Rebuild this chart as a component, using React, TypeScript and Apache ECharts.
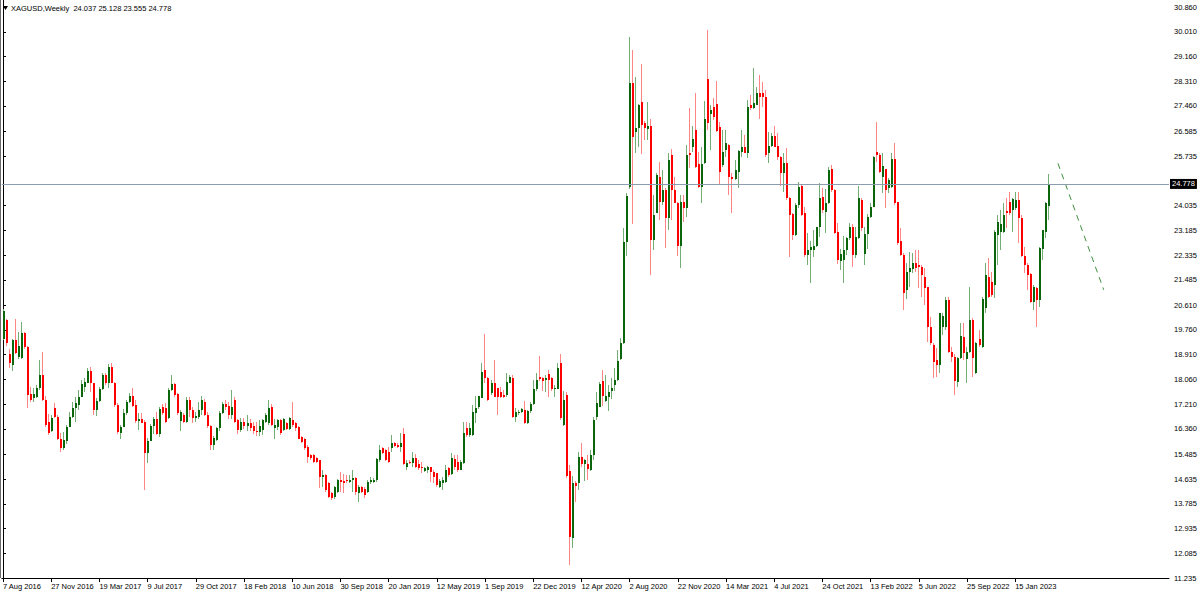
import React, { useEffect, useRef } from "react";
import * as echarts from "echarts";

// ---- Weekly XAGUSD bars: [open, high, low, close] ----
const BARS_2016: number[][] = [
  [19.45, 20.47, 19.4, 20.4], [20.1, 20.13, 19.21, 19.3], [18.93, 19.1, 18.44, 18.61], [18.56, 19.45, 18.36, 19.42],
  [19.42, 20.13, 18.93, 18.98], [18.82, 19.7, 18.75, 19.21], [18.79, 20.05, 18.75, 19.67], [19.64, 19.7, 19.1, 19.16],
  [19.16, 19.21, 17.07, 17.52], [17.56, 17.81, 17.3, 17.37], [17.41, 17.75, 17.3, 17.56], [17.47, 17.87, 17.41, 17.76],
  [17.76, 18.73, 17.7, 18.21], [18.21, 19.0, 17.33, 17.35], [17.35, 17.49, 16.44, 16.49], [16.61, 16.87, 16.15, 16.23],
  [16.3, 16.84, 16.25, 16.72], [17.07, 17.24, 16.72, 16.78], [16.78, 16.84, 15.98, 16.03], [16.03, 16.21, 15.58, 15.69],
  [15.69, 16.27, 15.63, 15.98],
];
const BARS_2017: number[][] = [
  [15.96, 16.49, 15.84, 16.44], [16.44, 16.95, 16.41, 16.76], [16.78, 17.3, 16.72, 17.07], [17.07, 17.47, 16.61, 17.24],
  [17.18, 17.7, 17.01, 17.47], [17.47, 18.04, 17.44, 17.9], [17.81, 18.1, 17.64, 17.98], [17.95, 18.44, 17.93, 18.36],
  [18.36, 18.5, 17.64, 17.93], [17.93, 17.95, 16.84, 17.01], [17.01, 17.41, 16.8, 17.33], [17.33, 17.79, 17.3, 17.74],
  [17.74, 18.29, 17.7, 18.21], [18.21, 18.29, 17.87, 17.95], [17.95, 18.58, 17.75, 18.48], [18.5, 18.61, 17.93, 17.95],
  [17.95, 17.98, 17.12, 17.18], [17.18, 17.24, 16.18, 16.26], [16.23, 16.49, 16.03, 16.41], [16.41, 17.03, 16.41, 16.92],
  [16.92, 17.35, 16.84, 17.28], [17.28, 17.58, 17.24, 17.49], [17.49, 17.75, 17.12, 17.15], [17.18, 17.35, 16.55, 16.63],
  [16.63, 16.9, 16.32, 16.69], [16.69, 16.9, 16.55, 16.57], [16.61, 16.67, 14.26, 15.54], [15.54, 16.04, 15.18, 15.96],
  [15.96, 16.52, 15.93, 16.47], [16.47, 16.78, 16.18, 16.69], [16.69, 16.95, 16.15, 16.2], [16.2, 17.12, 16.09, 17.03],
  [17.12, 17.2, 16.85, 16.9], [17.07, 17.24, 16.55, 16.61], [16.75, 17.75, 16.7, 17.7], [17.7, 18.21, 17.68, 17.92],
  [17.9, 17.95, 17.45, 17.52], [17.55, 17.6, 16.85, 16.9], [16.62, 17.0, 16.3, 16.95], [16.85, 16.9, 16.55, 16.6],
  [16.6, 17.45, 16.55, 17.37], [17.37, 17.47, 16.76, 17.0], [17.0, 17.12, 16.55, 16.72], [16.72, 16.95, 16.6, 16.8],
  [16.78, 17.3, 16.7, 17.0], [17.0, 17.5, 16.85, 17.37], [17.3, 17.4, 16.8, 16.85], [16.85, 16.95, 16.4, 16.45],
  [16.45, 16.5, 15.63, 15.8], [15.8, 16.1, 15.65, 16.05], [15.98, 16.42, 15.95, 16.38], [16.38, 16.98, 16.3, 16.92],
  [16.92, 17.3, 16.88, 17.2],
];
const BARS_2018: number[][] = [
  [17.2, 17.35, 17.0, 17.1], [17.15, 17.3, 16.7, 16.85], [16.85, 17.7, 16.7, 17.1], [17.35, 17.45, 16.55, 16.6],
  [16.65, 16.7, 16.2, 16.32], [16.32, 16.75, 16.25, 16.6], [16.6, 16.75, 16.35, 16.45], [16.45, 16.85, 16.3, 16.55],
  [16.55, 16.7, 16.3, 16.4], [16.45, 16.6, 16.2, 16.3], [16.3, 16.6, 16.1, 16.25], [16.25, 16.65, 16.1, 16.45],
  [16.32, 16.69, 16.15, 16.67], [16.61, 16.89, 16.55, 16.84], [16.55, 17.35, 16.49, 17.07], [17.12, 17.2, 16.45, 16.49],
  [16.38, 16.69, 16.0, 16.49], [16.44, 16.69, 16.32, 16.67], [16.67, 16.69, 16.15, 16.21], [16.32, 16.72, 16.3, 16.69],
  [16.55, 16.61, 16.32, 16.34], [16.34, 16.76, 16.32, 16.72], [16.67, 17.3, 16.44, 16.49], [16.55, 16.6, 16.3, 16.38],
  [16.44, 16.46, 16.0, 16.03], [16.09, 16.12, 15.88, 15.92], [16.03, 16.06, 15.65, 15.69], [15.75, 15.81, 15.18, 15.4],
  [15.46, 15.5, 15.3, 15.35], [15.46, 15.5, 15.18, 15.23], [15.35, 15.4, 15.18, 15.23], [15.29, 15.3, 14.32, 14.72],
  [14.72, 14.95, 14.37, 14.77], [14.77, 14.8, 14.2, 14.26], [14.49, 14.55, 13.97, 14.03], [14.14, 14.2, 13.92, 13.97],
  [14.03, 14.4, 13.95, 14.37], [14.2, 14.65, 14.15, 14.6], [14.6, 14.89, 14.2, 14.55], [14.58, 14.8, 14.15, 14.5],
  [14.6, 14.77, 14.49, 14.58], [14.55, 14.77, 14.49, 14.62], [14.6, 14.95, 14.2, 14.66], [14.66, 14.7, 14.09, 14.2],
  [14.15, 14.43, 13.86, 14.37], [14.37, 14.4, 14.15, 14.2], [14.3, 14.35, 14.0, 14.09], [14.2, 14.6, 14.15, 14.55],
  [14.55, 14.7, 14.45, 14.6], [14.55, 14.66, 14.5, 14.6], [14.6, 15.35, 14.55, 15.31], [15.29, 15.81, 15.23, 15.63],
];
const BARS_2019: number[][] = [
  [15.69, 15.75, 15.5, 15.52], [15.63, 15.66, 15.25, 15.29], [15.58, 15.75, 15.18, 15.23], [15.69, 16.15, 15.58, 15.86],
  [15.86, 15.92, 15.75, 15.77], [15.81, 15.86, 15.7, 15.75], [15.73, 16.21, 15.58, 15.86], [16.2, 16.38, 15.12, 15.15],
  [15.04, 15.29, 14.95, 15.2], [15.23, 15.3, 15.15, 15.2], [15.2, 15.55, 15.06, 15.35], [15.35, 15.5, 15.0, 15.06],
  [15.15, 15.29, 14.95, 15.0], [15.04, 15.23, 14.83, 15.0], [14.92, 15.06, 14.89, 15.02], [14.95, 15.08, 14.85, 15.06],
  [15.06, 15.06, 14.55, 14.89], [14.89, 14.95, 14.49, 14.72], [14.83, 14.83, 14.37, 14.43], [14.37, 14.63, 14.32, 14.58],
  [14.49, 14.72, 14.26, 14.6], [14.55, 15.12, 14.49, 14.95], [15.0, 15.06, 14.72, 14.77], [14.81, 15.54, 14.77, 15.35],
  [15.31, 15.46, 14.95, 15.06], [15.23, 15.46, 14.89, 14.95], [14.95, 15.29, 14.95, 15.23], [15.18, 16.61, 15.15, 16.21],
  [16.38, 16.61, 16.09, 16.15], [16.15, 16.55, 16.09, 16.38], [16.15, 17.18, 16.12, 16.95], [16.89, 17.49, 16.55, 17.07],
  [17.1, 17.49, 17.03, 17.49], [17.41, 18.64, 17.41, 18.33], [18.38, 19.62, 17.93, 18.1], [18.1, 18.16, 17.33, 17.35],
  [17.58, 18.04, 17.52, 17.93], [17.93, 18.73, 17.45, 17.47], [17.75, 17.75, 16.84, 17.47], [17.64, 17.81, 17.41, 17.47],
  [17.52, 17.7, 17.41, 17.47], [17.52, 18.29, 17.47, 17.98], [17.93, 18.21, 17.93, 18.13], [18.1, 18.21, 16.72, 16.78],
  [16.76, 17.07, 16.61, 16.95], [16.89, 17.0, 16.85, 16.95], [16.95, 17.07, 16.9, 17.03], [17.02, 17.32, 16.54, 16.57],
  [16.57, 17.0, 16.54, 16.96], [16.96, 17.29, 16.9, 17.2], [17.2, 18.04, 17.17, 17.74], [17.74, 18.28, 17.68, 18.04],
];
const BARS_2020: number[][] = [
  [18.13, 18.85, 17.99, 18.08], [18.1, 18.16, 17.68, 18.01], [18.04, 18.23, 17.62, 18.1], [18.25, 18.4, 17.44, 18.04],
  [18.1, 18.16, 17.68, 17.74], [17.74, 17.87, 17.44, 17.76], [17.74, 18.64, 17.72, 18.46], [18.64, 18.95, 16.66, 16.72],
  [16.48, 17.68, 16.45, 17.36], [17.53, 17.62, 14.68, 14.74], [14.92, 15.12, 11.67, 12.64], [12.6, 14.74, 12.27, 14.5],
  [14.5, 14.56, 13.84, 14.4], [14.5, 15.58, 14.26, 15.4], [15.4, 15.88, 15.04, 15.16], [15.16, 15.34, 14.56, 15.28],
  [15.16, 15.48, 14.62, 14.98], [14.96, 15.64, 14.92, 15.46], [15.46, 16.76, 15.28, 16.66], [16.76, 17.62, 16.66, 17.24],
  [17.12, 17.96, 17.12, 17.89], [18.01, 18.4, 17.14, 17.5], [17.32, 18.23, 17.29, 17.48], [17.44, 17.87, 16.96, 17.62],
  [17.68, 18.1, 17.38, 17.77], [17.87, 18.46, 17.68, 18.04], [18.04, 19.07, 17.99, 18.7], [18.77, 19.49, 18.73, 19.33],
  [19.31, 23.27, 19.28, 22.77], [22.77, 24.47, 22.29, 24.38], [24.69, 29.82, 24.6, 28.26], [28.26, 29.4, 23.39, 26.4],
  [26.58, 28.47, 25.86, 26.7], [26.7, 27.54, 26.04, 27.48], [27.6, 28.9, 25.8, 26.82], [26.88, 26.94, 26.28, 26.7],
  [26.66, 27.6, 26.28, 26.78], [26.76, 27.0, 21.65, 22.85], [22.85, 24.4, 22.51, 23.71], [23.79, 25.15, 23.77, 25.09],
  [25.03, 25.55, 23.54, 24.17], [24.17, 25.26, 24.06, 24.57], [24.57, 24.63, 22.57, 23.6], [23.6, 25.83, 23.2, 25.6],
  [25.78, 25.97, 23.54, 24.57], [24.57, 25.03, 24.11, 24.14], [24.14, 24.17, 22.3, 22.65], [22.65, 24.4, 21.88, 24.17],
  [24.17, 24.4, 23.48, 23.94], [23.94, 26.12, 23.66, 25.78], [25.83, 27.38, 25.32, 25.78], [26.06, 26.77, 25.89, 26.31],
];
const BARS_2021: number[][] = [
  [26.63, 27.92, 25.32, 25.37], [25.47, 25.89, 24.63, 24.69], [24.69, 26.06, 24.11, 25.47], [25.49, 27.64, 25.47, 27.0],
  [28.38, 30.07, 26.63, 26.86], [27.18, 27.49, 25.95, 27.32], [27.41, 27.72, 26.98, 27.09], [27.53, 28.33, 26.58, 26.61],
  [26.75, 26.92, 24.78, 25.2], [25.43, 26.63, 25.37, 25.89], [25.95, 26.63, 25.72, 26.2], [26.12, 26.15, 24.4, 25.03],
  [25.03, 25.15, 23.77, 24.94], [24.94, 25.6, 24.92, 25.26], [25.2, 25.95, 24.63, 25.92], [25.89, 26.63, 25.72, 26.04],
  [26.04, 26.46, 25.83, 25.86], [25.83, 27.67, 25.66, 27.44], [27.49, 27.84, 27.32, 27.38], [27.38, 28.75, 27.35, 27.57],
  [27.49, 28.12, 27.49, 27.92], [27.92, 28.53, 27.0, 27.78], [27.9, 28.3, 27.41, 27.76], [27.76, 28.01, 25.72, 25.78],
  [25.83, 26.58, 25.51, 26.08], [26.08, 26.52, 26.06, 26.43], [26.43, 26.77, 26.06, 26.06], [26.08, 26.52, 25.6, 25.7],
  [25.72, 25.74, 24.71, 25.17], [25.17, 25.83, 24.51, 25.49], [25.49, 26.0, 24.23, 24.29], [24.29, 24.32, 22.28, 23.71],
  [23.75, 23.77, 22.85, 23.03], [23.03, 24.11, 22.99, 24.06], [24.06, 24.86, 23.94, 24.69], [24.71, 24.78, 23.68, 23.71],
  [23.77, 23.98, 22.28, 22.34], [22.34, 23.11, 21.99, 22.51], [22.51, 22.83, 21.39, 22.62], [22.51, 23.2, 22.28, 22.65],
  [22.65, 23.31, 22.62, 23.31], [23.29, 24.82, 22.95, 24.29], [24.32, 24.63, 23.77, 23.88], [23.83, 24.6, 23.11, 24.14],
  [24.11, 25.37, 24.09, 25.26], [25.28, 25.43, 24.51, 24.57], [24.57, 24.6, 23.06, 23.08], [23.14, 23.43, 22.03, 22.17],
  [22.14, 22.53, 21.82, 22.37], [22.17, 22.99, 21.39, 22.51], [22.51, 22.97, 22.34, 22.91], [22.91, 23.43, 22.85, 23.31],
];
const BARS_2022: number[][] = [
  [23.31, 23.4, 21.94, 22.34], [22.34, 23.31, 22.22, 22.95], [22.91, 24.71, 22.88, 24.29], [24.23, 24.29, 23.17, 23.25],
  [22.37, 23.29, 21.99, 23.06], [23.06, 23.75, 22.53, 23.66], [23.63, 24.11, 23.6, 24.0], [24.0, 25.74, 23.98, 25.72],
  [25.89, 26.92, 25.55, 25.77], [25.77, 25.83, 25.15, 25.2], [25.03, 25.83, 24.46, 25.4], [25.28, 25.31, 23.94, 24.57],
  [24.63, 24.97, 24.46, 24.92], [24.66, 25.86, 24.63, 25.63], [25.63, 26.2, 24.06, 24.11], [24.17, 24.17, 22.68, 22.74],
  [22.83, 23.25, 22.3, 22.34], [22.34, 22.4, 20.45, 21.04], [21.13, 22.07, 20.81, 21.76], [21.76, 22.45, 21.25, 21.9],
  [21.85, 22.4, 21.71, 22.05], [22.05, 22.51, 21.76, 21.88], [21.99, 22.51, 21.2, 21.91], [21.94, 21.99, 20.91, 21.65],
  [21.59, 21.88, 20.62, 21.19], [21.23, 21.25, 19.36, 19.87], [19.87, 20.22, 19.24, 19.3], [19.24, 19.3, 18.1, 18.67],
  [18.73, 19.13, 18.16, 18.56], [18.56, 20.36, 18.27, 20.33], [19.87, 20.33, 19.59, 20.24], [19.87, 20.91, 19.76, 20.79],
  [20.79, 20.91, 18.96, 19.01], [19.01, 19.19, 18.67, 18.84], [18.84, 18.94, 17.53, 18.02], [17.98, 18.84, 17.81, 18.79],
  [18.79, 20.01, 18.75, 19.55], [19.53, 19.99, 18.73, 18.96], [18.75, 19.19, 17.93, 19.01], [19.01, 21.25, 18.96, 20.1],
  [20.1, 20.16, 18.16, 18.79], [18.27, 19.36, 18.25, 19.3], [19.44, 19.76, 19.19, 19.24], [19.16, 20.91, 19.13, 20.81],
  [20.5, 22.05, 20.36, 21.65], [21.57, 22.22, 20.85, 20.91], [21.42, 21.76, 20.91, 20.96], [21.31, 23.2, 20.85, 23.14],
  [23.03, 23.71, 21.99, 23.48], [23.14, 23.88, 22.51, 23.4], [23.14, 24.11, 23.08, 23.71], [23.86, 24.29, 23.25, 23.77],
];
const BARS_2023: number[][] = [
  [24.17, 24.52, 23.71, 23.77], [23.88, 24.29, 23.14, 24.25], [23.94, 24.52, 23.88, 24.23], [24.23, 24.52, 22.74, 23.6],
  [23.6, 23.7, 22.28, 22.3], [22.3, 22.62, 21.71, 21.99], [21.99, 22.05, 21.13, 21.65], [21.69, 21.71, 20.68, 20.73],
  [20.73, 21.31, 20.45, 21.25], [21.19, 21.25, 19.87, 20.79], [20.79, 22.62, 20.56, 22.57], [22.53, 23.2, 22.17, 23.2],
  [23.14, 24.17, 22.91, 24.11], [24.037, 25.128, 23.555, 24.778],
];

// ---- Axis tick labels ----
const X_TICK_INDEX = [0, 16, 32, 48, 64, 80, 96, 112, 128, 144, 160, 176, 192, 208, 224, 240, 256, 272, 288, 304, 320, 336];
const X_TICK_LABELS = [
  "7 Aug 2016", "27 Nov 2016", "19 Mar 2017", "9 Jul 2017", "29 Oct 2017", "18 Feb 2018", "10 Jun 2018",
  "30 Sep 2018", "20 Jan 2019", "12 May 2019", "1 Sep 2019", "22 Dec 2019", "12 Apr 2020", "2 Aug 2020",
  "22 Nov 2020", "14 Mar 2021", "4 Jul 2021", "24 Oct 2021", "13 Feb 2022", "5 Jun 2022", "25 Sep 2022", "15 Jan 2023",
];
const Y_TICK_LABELS = [
  "30.860", "30.010", "29.160", "28.310", "27.460", "26.585", "25.735", "24.035", "23.185", "22.335", "21.485",
  "20.610", "19.760", "18.910", "18.060", "17.210", "16.360", "15.485", "14.635", "13.785", "12.935", "12.085", "11.235",
];

// ---- Hand-drawn trend line (bar position, price) ----
const TREND_X = [350.2, 365.4];
const TREND_Y = [25.49, 21.14];

const SYMBOL = "XAGUSD,Weekly";

// ---- Styles ----
const FONT = "Liberation Sans";
const BULL_BODY = "#0b650b";
const BULL_WICK = "#74ad74";
const BEAR_BODY = "#ff0000";
const BEAR_WICK = "#ff8484";
const PRICE_LINE = "#8d9db0";
const TREND_COLOR = "#3f8f3f";

export default function App() {
  const ref = useRef<HTMLDivElement | null>(null);

  useEffect(() => {
    if (!ref.current) return;
    const chart = echarts.init(ref.current, undefined, { renderer: "svg" });

    const bars = [...BARS_2016, ...BARS_2017, ...BARS_2018, ...BARS_2019, ...BARS_2020, ...BARS_2021, ...BARS_2022, ...BARS_2023];
    const candleData = bars.map((b, i) => [i, b[0], b[3], b[2], b[1]]);
    const last = bars[bars.length - 1];
    const lastClose = last[3];
    const title = `${SYMBOL}  ${last.map((v) => v.toFixed(3)).join(" ")}`;
    const yTicks = Y_TICK_LABELS.map(Number);

    chart.setOption({
      animation: false,
      backgroundColor: "#ffffff",
      grid: { left: 0, right: 31, top: 0, bottom: 19, show: false },
      xAxis: {
        type: "value",
        min: -0.4,
        max: 387.07,
        splitLine: { show: false },
        axisLine: { show: true, lineStyle: { color: "#000", width: 1 } },
        axisTick: { show: true, customValues: X_TICK_INDEX, length: 4, lineStyle: { color: "#000" } },
        axisLabel: {
          customValues: X_TICK_INDEX,
          formatter: (v: number) => X_TICK_LABELS[X_TICK_INDEX.indexOf(Math.round(v))] ?? "",
          align: "left",
          margin: 4,
          fontSize: 7.5,
          fontFamily: FONT,
          color: "#000",
        },
      },
      yAxis: {
        type: "value",
        position: "right",
        min: 11.235,
        max: 31.103,
        scale: true,
        splitLine: { show: false },
        axisLine: { show: true, lineStyle: { color: "#000", width: 1 } },
        axisTick: { show: true, customValues: yTicks, length: 3, lineStyle: { color: "#000" } },
        axisLabel: {
          customValues: yTicks,
          formatter: (v: number) => v.toFixed(3),
          margin: 5,
          fontSize: 7.5,
          fontFamily: FONT,
          color: "#000",
        },
      },
      series: [
        {
          type: "custom",
          name: SYMBOL,
          clip: true,
          encode: { x: 0, y: [1, 2, 3, 4] },
          data: candleData,
          renderItem: (_params: any, api: any) => {
            const i = api.value(0);
            const o = api.value(1);
            const c = api.value(2);
            const lo = api.value(3);
            const hi = api.value(4);
            const pO = api.coord([i, o]);
            const pC = api.coord([i, c]);
            const pL = api.coord([i, lo]);
            const pH = api.coord([i, hi]);
            const up = c >= o;
            const cx = Math.floor(pO[0]);
            const yTop = Math.round(Math.min(pO[1], pC[1]));
            const yBot = Math.round(Math.max(pO[1], pC[1]));
            return {
              type: "group",
              children: [
                {
                  type: "line",
                  shape: { x1: cx + 0.5, y1: Math.round(pH[1]), x2: cx + 0.5, y2: Math.round(pL[1]) },
                  style: { stroke: up ? BULL_WICK : BEAR_WICK, lineWidth: 1 },
                },
                {
                  type: "rect",
                  shape: { x: cx, y: yTop, width: 2, height: Math.max(1, yBot - yTop) },
                  style: { fill: up ? BULL_BODY : BEAR_BODY },
                },
              ],
            };
          },
          markLine: {
            silent: true,
            symbol: ["none", "none"],
            data: [{ yAxis: lastClose }],
            lineStyle: { color: PRICE_LINE, width: 1, type: "solid" },
            label: {
              show: true,
              position: "end",
              formatter: lastClose.toFixed(3),
              color: "#fff",
              backgroundColor: "#000",
              padding: [1, 2, 1, 2],
              fontSize: 7.5,
              fontFamily: FONT,
              distance: 1,
            },
          },
        },
        {
          type: "line",
          name: "trend",
          data: TREND_X.map((x, k) => [x, TREND_Y[k]]),
          symbol: "none",
          silent: true,
          lineStyle: { color: TREND_COLOR, width: 1, type: [6, 5] },
        },
      ],
      graphic: [
        { type: "line", shape: { x1: 0.5, y1: 0, x2: 0.5, y2: 578 }, style: { stroke: "#6b6b6b", lineWidth: 1 } },
        { type: "polygon", shape: { points: [[3, 6], [8, 6], [5.5, 10]] }, style: { fill: "#000" } },
        {
          type: "text",
          x: 11,
          y: 8,
          style: { text: title, fontSize: 7.5, fontFamily: FONT, fill: "#000", verticalAlign: "middle" },
        },
      ],
    });

    return () => chart.dispose();
  }, []);

  return (
    <div
      ref={ref}
      style={{ position: "absolute", left: 0, top: 0, width: 1200, height: 597, background: "#fff" }}
    />
  );
}
